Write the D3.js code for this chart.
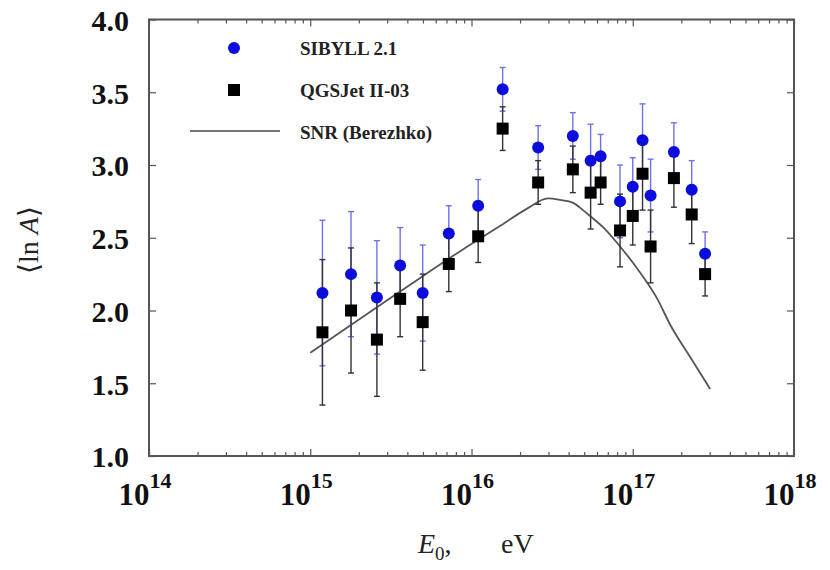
<!DOCTYPE html>
<meta charset="utf-8">
<script src="https://d3js.org/d3.v7.min.js"></script>
<style>
  body { margin: 0; background: #fff; }
  text { font-family: "Liberation Serif", "DejaVu Serif", serif; }
</style>
<body>
<div id="chart"></div>
<script>
// energies (eV) of the bins
var energy = [1.19e15, 1.79e15, 2.59e15, 3.61e15, 4.98e15, 7.23e15, 1.10e16, 1.56e16,
              2.59e16, 4.25e16, 5.48e16, 6.32e16, 8.34e16, 1.00e17, 1.15e17, 1.29e17,
              1.80e17, 2.32e17, 2.81e17];
// <ln A> with SIBYLL 2.1
var sibyll = [2.12, 2.25, 2.09, 2.31, 2.12, 2.53, 2.72, 3.52, 3.12, 3.20, 3.03, 3.06,
              2.75, 2.85, 3.17, 2.79, 3.09, 2.83, 2.39];
// <ln A> with QGSJet II-03
var qgsjet = [1.85, 2.00, 1.80, 2.08, 1.92, 2.32, 2.51, 3.25, 2.88, 2.97, 2.81, 2.88,
              2.55, 2.65, 2.94, 2.44, 2.91, 2.66, 2.25];
// errors (same for both models)
var errs = [0.50, 0.43, 0.39, 0.26, 0.33, 0.19, 0.18, 0.15, 0.15, 0.16, 0.25, 0.15,
            0.25, 0.20, 0.25, 0.25, 0.20, 0.20, 0.15];
// SNR model (Berezhko)
var snrE = [1.0e15, 3.6e15, 8.85e15, 1.50e16, 2.21e16, 2.98e16, 3.54e16, 4.27e16,
            4.91e16, 5.43e16, 6.73e16, 8.34e16, 1.00e17, 1.23e17, 1.42e17, 1.71e17,
            2.27e17, 3.02e17];
var snrLnA = [1.71, 2.13, 2.42, 2.58, 2.70, 2.77, 2.76, 2.74, 2.69, 2.65, 2.56, 2.44,
              2.33, 2.19, 2.08, 1.90, 1.68, 1.46];
var yTicks = [1.0, 1.5, 2.0, 2.5, 3.0, 3.5, 4.0];
var xTicks = [1e14, 1e15, 1e16, 1e17, 1e18];

var W = 830, H = 570;
var pLeft = 149, pRight = 794, pTop = 19.5, pBottom = 456;

var svg = d3.select("#chart").append("svg")
  .attr("width", W).attr("height", H);

var x = d3.scaleLog().domain([1e14, 1e18]).range([pLeft, pRight]);
var y = d3.scaleLinear().domain([1, 4]).range([pBottom, pTop]);

var minor = [];
for (var d = 14; d < 18; d++)
  for (var m = 2; m <= 9; m++) minor.push(m * Math.pow(10, d));

var axCol = "#555";

function styleAxis(g) {
  g.select(".domain").remove();
  g.selectAll(".tick line").attr("stroke", axCol).attr("stroke-width", 1.2);
}

// major / minor ticks, inward, on all four sides
svg.append("g").attr("transform", "translate(0," + pBottom + ")")
  .call(d3.axisBottom(x).tickValues(minor).tickSize(-4).tickFormat(""))
  .call(styleAxis);
svg.append("g").attr("transform", "translate(0," + pTop + ")")
  .call(d3.axisTop(x).tickValues(minor).tickSize(-4).tickFormat(""))
  .call(styleAxis);
svg.append("g").attr("transform", "translate(0," + pTop + ")")
  .call(d3.axisTop(x).tickValues(xTicks).tickSize(-7).tickFormat(""))
  .call(styleAxis);
svg.append("g").attr("transform", "translate(" + pRight + ",0)")
  .call(d3.axisRight(y).tickValues(yTicks).tickSize(-7).tickFormat(""))
  .call(styleAxis);

var xAxis = svg.append("g").attr("transform", "translate(0," + pBottom + ")")
  .call(d3.axisBottom(x).tickValues(xTicks).tickSize(-7).tickFormat(""))
  .call(styleAxis);
xAxis.selectAll(".tick text").remove();
xAxis.selectAll(".tick").append("text")
  .attr("x", -31)
  .attr("y", 49)
  .attr("fill", "#111")
  .attr("text-anchor", "start")
  .style("font-size", "31px").style("font-weight", "bold")
  .each(function(v) {
    var t = d3.select(this);
    t.append("tspan").text("10");
    t.append("tspan").attr("dy", -17).style("font-size", "22px")
      .text(Math.round(Math.log10(v)));
  });

var yAxis = svg.append("g").attr("transform", "translate(" + pLeft + ",0)")
  .call(d3.axisLeft(y).tickValues(yTicks).tickSize(-7).tickPadding(20)
    .tickFormat(d3.format(".1f")))
  .call(styleAxis);
yAxis.selectAll(".tick text")
  .attr("fill", "#111")
  .attr("dy", "0.36em")
  .style("font-size", "30px").style("font-weight", "bold")
  .style("font-family", "Liberation Serif, serif");

// frame
svg.append("rect")
  .attr("x", pLeft).attr("y", pTop)
  .attr("width", pRight - pLeft).attr("height", pBottom - pTop)
  .attr("fill", "none").attr("stroke", axCol).attr("stroke-width", 2);

// SNR curve
var idx = d3.range(snrE.length);
svg.append("path")
  .datum(idx)
  .attr("fill", "none").attr("stroke", "#555").attr("stroke-width", 1.8)
  .attr("d", d3.line()
    .curve(d3.curveMonotoneX)
    .x(function(i) { return x(snrE[i]); })
    .y(function(i) { return y(snrLnA[i]); }));

var pts = d3.range(energy.length);

function errBars(vals, col, cls) {
  var g = svg.append("g").attr("stroke", col).attr("stroke-width", 1.4);
  g.selectAll("line.v" + cls).data(pts).enter().append("line")
    .attr("x1", function(i) { return x(energy[i]); })
    .attr("x2", function(i) { return x(energy[i]); })
    .attr("y1", function(i) { return y(vals[i] - errs[i]); })
    .attr("y2", function(i) { return y(vals[i] + errs[i]); });
  [-1, 1].forEach(function(s) {
    g.selectAll("line.c" + cls + s).data(pts).enter().append("line")
      .attr("x1", function(i) { return x(energy[i]) - 3; })
      .attr("x2", function(i) { return x(energy[i]) + 3; })
      .attr("y1", function(i) { return y(vals[i] + s * errs[i]); })
      .attr("y2", function(i) { return y(vals[i] + s * errs[i]); });
  });
}

errBars(sibyll, "#7070e8", "s");
errBars(qgsjet, "#333", "q");

svg.append("g").selectAll("rect").data(pts).enter().append("rect")
  .attr("x", function(i) { return x(energy[i]) - 6; })
  .attr("y", function(i) { return y(qgsjet[i]) - 6; })
  .attr("width", 12).attr("height", 12)
  .attr("fill", "#000");

svg.append("g").selectAll("circle").data(pts).enter().append("circle")
  .attr("cx", function(i) { return x(energy[i]); })
  .attr("cy", function(i) { return y(sibyll[i]); })
  .attr("r", 6)
  .attr("fill", "#0c0cdc");

// legend
var lg = svg.append("g");
lg.append("circle").attr("cx", 234).attr("cy", 48).attr("r", 6).attr("fill", "#0c0cdc");
lg.append("rect").attr("x", 228).attr("y", 84).attr("width", 12).attr("height", 12).attr("fill", "#000");
lg.append("line").attr("x1", 190).attr("x2", 280).attr("y1", 131).attr("y2", 131)
  .attr("stroke", "#777").attr("stroke-width", 2);
var legText = ["SIBYLL 2.1", "QGSJet II-03", "SNR (Berezhko)"];
legText.forEach(function(t, i) {
  lg.append("text").attr("x", 300).attr("y", 55 + i * 42)
    .attr("fill", "#222")
    .style("font-size", "19px").style("font-weight", "bold")
    .text(t);
});

// axis titles
var yt = svg.append("text")
  .attr("transform", "translate(38,240) rotate(-90)")
  .attr("text-anchor", "middle")
  .attr("fill", "#222")
  .style("font-size", "28px");
yt.append("tspan").text("\u27E8ln ");
yt.append("tspan").style("font-style", "italic").text("A");
yt.append("tspan").text("\u27E9");

var xt = svg.append("text")
  .attr("x", 418).attr("y", 553)
  .attr("fill", "#222")
  .style("font-size", "28px");
xt.append("tspan").style("font-style", "italic").text("E");
xt.append("tspan").attr("dy", 7).style("font-size", "19px").text("0");
xt.append("tspan").attr("dy", -7).text(",");
svg.append("text")
  .attr("x", 501).attr("y", 553)
  .attr("fill", "#222")
  .style("font-size", "28px")
  .text("eV");
</script>
</body>
